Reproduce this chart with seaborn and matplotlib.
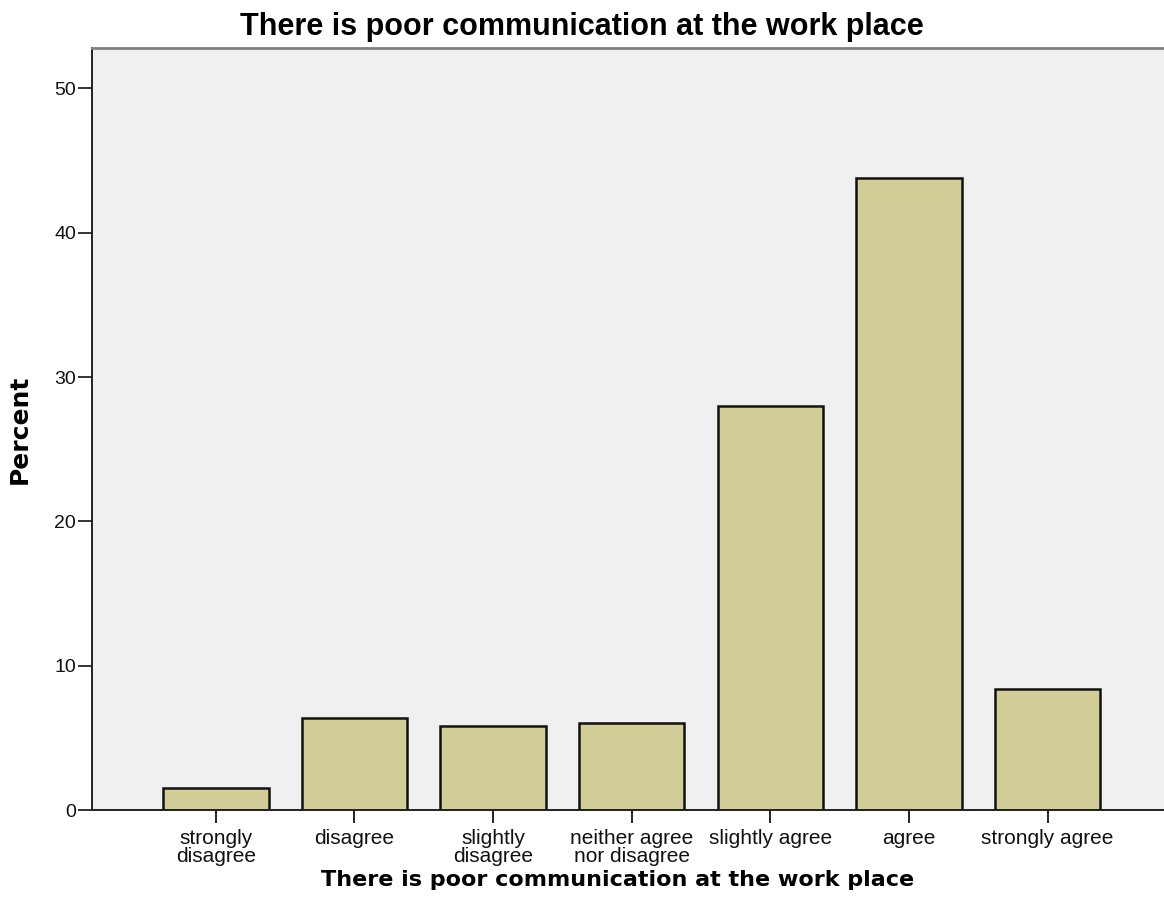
import matplotlib
matplotlib.use("Agg")
import pandas as pd
import seaborn as sns
from matplotlib import pyplot as plt

categories = ["strongly\ndisagree", "disagree", "slightly\ndisagree", "neither agree\nnor disagree",
              "slightly agree", "agree", "strongly agree"]
percent = [1.5, 6.4, 5.8, 6.0, 28.0, 43.8, 8.4]
y_ticks = [0, 10, 20, 30, 40, 50]

title = "There is poor communication at the work place"

sns.set_style("white")
plt.rcParams["font.family"] = ["Liberation Sans", "DejaVu Sans"]
plt.rcParams["text.color"] = "black"
plt.rcParams["axes.labelcolor"] = "black"

df = pd.DataFrame({"answer": categories, "percent": percent})

fig = plt.figure(figsize=(11.64, 9.19), dpi=100)
ax = fig.add_axes([0.079, 0.1186, 0.921, 0.8292])
ax.set_facecolor("#f0f0f0")

sns.barplot(data=df, x="answer", y="percent", color="#d3ce97", saturation=1,
            edgecolor="#111111", linewidth=1.8, width=0.76, ax=ax)

ax.set_xlim(-0.894, 6.84)
ax.set_ylim(0, 52.8)
ax.set_yticks(y_ticks)
ax.set_yticklabels([str(t) for t in y_ticks])

ax.spines["right"].set_visible(False)
ax.spines["top"].set_color("#808080")
ax.spines["top"].set_linewidth(2)
for side in ["left", "bottom"]:
    ax.spines[side].set_color("#222222")
    ax.spines[side].set_linewidth(1.4)

ax.tick_params(axis="x", bottom=True, length=9.5, width=1.4, color="#222222",
               labelcolor="#111111", labelsize=15, pad=4)
ax.tick_params(axis="y", left=True, length=10, width=1.4, color="#333333",
               labelcolor="#111111", labelsize=14, pad=1.5)
for lab in ax.get_xticklabels():
    lab.set_linespacing(0.95)

# title sits on the figure centre, not the axes centre
fig.text(0.5, 1 - 27 / 919, title, ha="center", va="center",
         fontsize=22, fontweight="bold", family=["Liberation Sans"])
ax.set_xlabel(title, fontsize=16, fontweight="bold", family=["DejaVu Sans"], labelpad=3)
ax.xaxis.label.set_x(0.49)
ax.set_ylabel("Percent", fontsize=18, fontweight="bold", family=["DejaVu Sans"], labelpad=16)

fig.savefig("out.png", dpi=100)
